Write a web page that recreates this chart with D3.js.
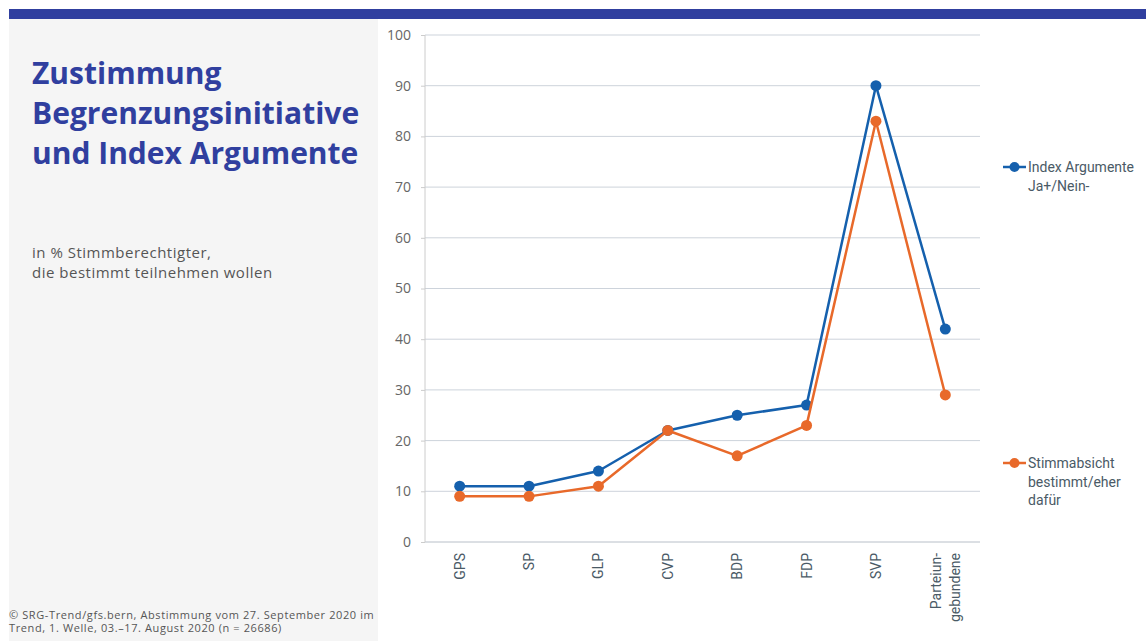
<!DOCTYPE html>
<html><head><meta charset="utf-8">
<script src="https://cdn.jsdelivr.net/npm/d3@7"></script>
<style>
body{margin:0;background:#fff;}
svg{display:block;}
</style></head>
<body>
<svg id="c" width="1146" height="641"></svg>
<script>
const categories = ["GPS","SP","GLP","CVP","BDP","FDP","SVP","Parteiun-|gebundene"];
const indexArgumente = [11,11,14,22,25,27,90,42];
const stimmabsicht = [9,9,11,22,17,23,83,29];
const yTicks = [0,10,20,30,40,50,60,70,80,90,100];
const seriesNames = [["Index Argumente","Ja+/Nein-"],["Stimmabsicht","bestimmt/eher","dafür"]];
const colors = ["#1560ad","#e8692a"];

const svg = d3.select("#c");
// top bar & left panel
svg.append("rect").attr("x",9).attr("y",9).attr("width",1137).attr("height",10).attr("fill","#303f9f");
svg.append("rect").attr("x",9).attr("y",19).attr("width",369).attr("height",622).attr("fill","#f5f5f5");

const title = ["Zustimmung","Begrenzungsinitiative","und Index Argumente"];
svg.append("g").selectAll("text").data(title).join("text")
  .attr("x",32).attr("y",(d,i)=>84+i*40)
  .attr("font-family","'Open Sans',sans-serif").attr("font-weight",700)
  .attr("font-size",30).attr("fill","#303f9f").attr("letter-spacing",0).text(d=>d);

svg.append("g").selectAll("text").data(["in % Stimmberechtigter,","die bestimmt teilnehmen wollen"]).join("text")
  .attr("x",32).attr("y",(d,i)=>258+i*20)
  .attr("font-family","'Open Sans',sans-serif").attr("font-size",15).attr("letter-spacing",0.5).attr("fill","#555").text(d=>d);

svg.append("g").selectAll("text").data(["© SRG-Trend/gfs.bern, Abstimmung vom 27. September 2020 im","Trend, 1. Welle, 03.–17. August 2020 (n = 26686)"]).join("text")
  .attr("x",9).attr("y",(d,i)=>619+i*13)
  .attr("font-family","'Open Sans',sans-serif").attr("font-size",11).attr("letter-spacing",0.6).attr("fill","#555").text(d=>d);

const x = d3.scaleBand().domain(categories).range([425,980]);
const y = d3.scaleLinear().domain([0,100]).range([542,35]);

// grid
svg.append("g").selectAll("line").data(yTicks).join("line")
  .attr("x1",425).attr("x2",980).attr("y1",d=>y(d)).attr("y2",d=>y(d))
  .attr("stroke",d=>d===0?"#b8bfc8":"#cdd3db").attr("stroke-width",1);

const yAxis = svg.append("g").attr("transform","translate(425,0)")
  .call(d3.axisLeft(y).tickValues(yTicks).tickSize(4).tickPadding(10));
yAxis.select(".domain").attr("stroke","#ccc").attr("d","M0,35V542");
yAxis.selectAll(".tick line").attr("stroke","#ccc");
yAxis.selectAll(".tick text").attr("font-family","'Open Sans',sans-serif").attr("font-size",14).attr("fill","#666");

// x labels
const xl = svg.append("g").selectAll("g").data(categories).join("g")
  .attr("transform",d=>`translate(${x(d)+x.bandwidth()/2},553) rotate(-90)`);
xl.each(function(d){
  const parts = d.split("|");
  const g = d3.select(this);
  parts.forEach((p,i)=>{
    g.append("text").attr("x",0).attr("y",(i-(parts.length-1)/2)*19+5)
      .attr("text-anchor","end").attr("font-family","Roboto,sans-serif").attr("font-size",14)
      .attr("fill","#4a5a66").text(p);
  });
});

const cx = d=>x(d)+x.bandwidth()/2;
[indexArgumente, stimmabsicht].forEach((vals,si)=>{
  const pts = categories.map((c,i)=>[cx(c), y(vals[i])]);
  svg.append("path").attr("d",d3.line()(pts)).attr("fill","none")
    .attr("stroke",colors[si]).attr("stroke-width",2.5).attr("stroke-linejoin","round");
  svg.append("g").selectAll("circle").data(pts).join("circle")
    .attr("cx",d=>d[0]).attr("cy",d=>d[1]).attr("r",5.5).attr("fill",colors[si]);
});

// legend
const legY = [167,463];
seriesNames.forEach((lines,si)=>{
  const g = svg.append("g").attr("transform",`translate(1003,${legY[si]})`);
  g.append("line").attr("x1",0).attr("x2",23).attr("y1",0).attr("y2",0).attr("stroke",colors[si]).attr("stroke-width",2.5);
  g.append("circle").attr("cx",11.5).attr("cy",0).attr("r",5).attr("fill",colors[si]);
  lines.forEach((l,i)=>{
    g.append("text").attr("x",25).attr("y",i*18.5+5).attr("font-family","Roboto,sans-serif")
      .attr("font-size",14).attr("fill","#4a5a66").text(l);
  });
});
</script>
</body></html>
